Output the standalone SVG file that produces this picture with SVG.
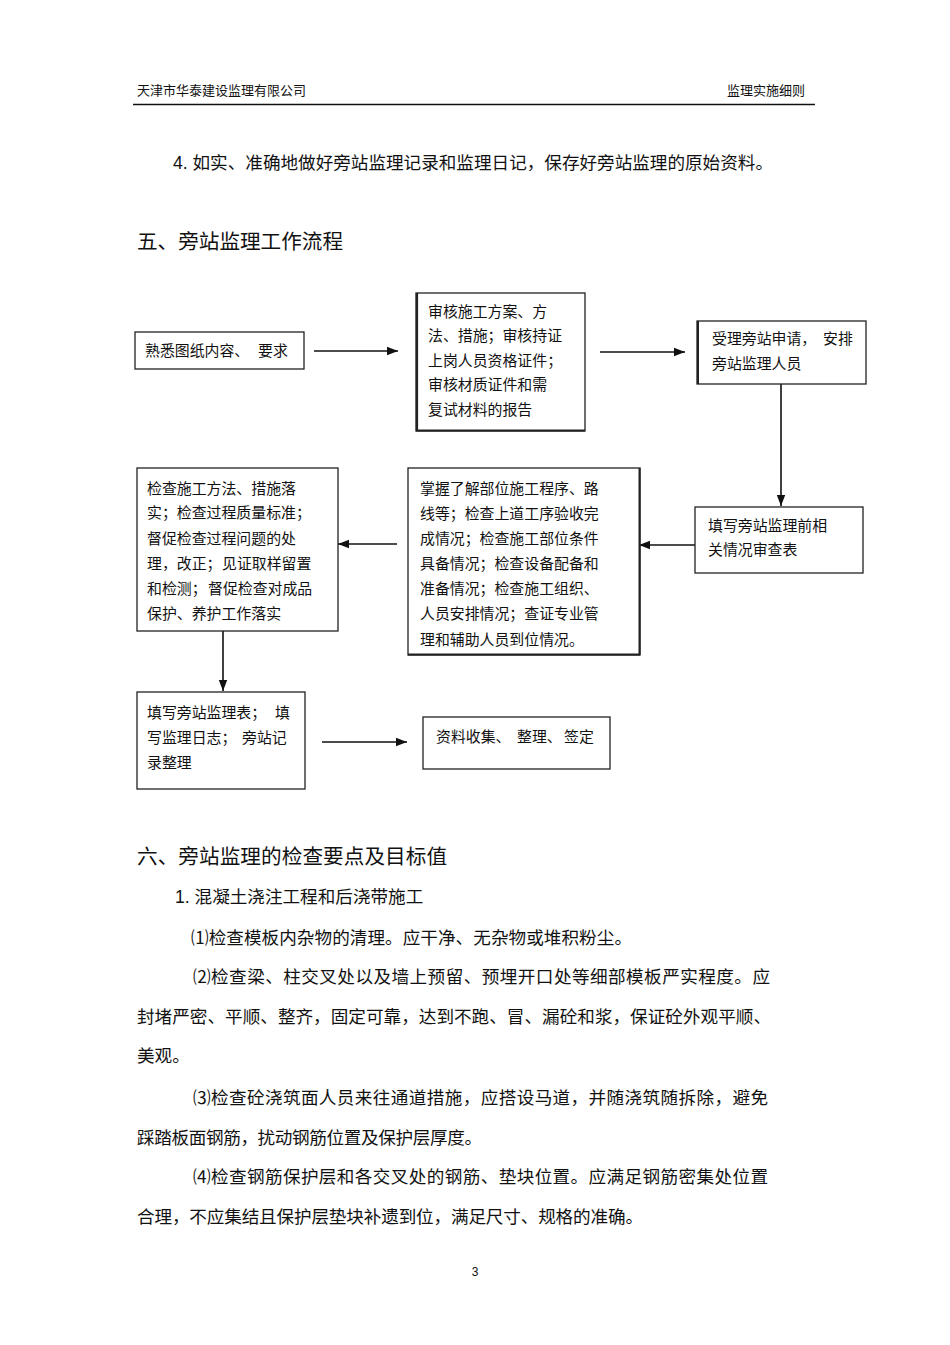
<svg xmlns="http://www.w3.org/2000/svg" width="950" height="1345" viewBox="0 0 950 1345">
<defs>
<style>
text{font-family:"Liberation Sans","Noto Sans CJK SC",sans-serif;fill:#111;}
.hd{font-size:13px;}
.body{font-size:17.6px;}
.h2{font-size:20.6px;}
.bx{font-size:14.9px;}
.box{fill:#fff;stroke:#222;stroke-width:1.3;}
.conn{stroke:#111;stroke-width:1.6;fill:none;marker-end:url(#arr);}
</style>
<marker id="arr" markerUnits="userSpaceOnUse" markerWidth="12" markerHeight="10" refX="11" refY="5" orient="auto">
<path d="M0,0.8 L11,5 L0,9.2 Z" fill="#111"/>
</marker>
</defs>
<rect width="950" height="1345" fill="#fff"/>

<g id="header">
<text class="hd" x="137" y="95">天津市华泰建设监理有限公司</text>
<text class="hd" x="805" y="95" text-anchor="end">监理实施细则</text>
<line x1="133" y1="104.5" x2="815" y2="104.5" stroke="#111" stroke-width="1.5"/>
</g>

<g id="intro">
<text class="body" x="173" y="169" textLength="600" lengthAdjust="spacing">4. 如实、准确地做好旁站监理记录和监理日记，保存好旁站监理的原始资料。</text>
<text class="h2" x="137" y="249" textLength="206" lengthAdjust="spacing">五、旁站监理工作流程</text>
</g>

<g id="connectors">
<line class="conn" x1="314" y1="351" x2="398" y2="351"/>
<line class="conn" x1="600" y1="352" x2="685" y2="352"/>
<line class="conn" x1="781" y1="384" x2="781" y2="506"/>
<line class="conn" x1="695" y1="545" x2="639" y2="545"/>
<line class="conn" x1="397" y1="544" x2="338" y2="544"/>
<line class="conn" x1="223" y1="631" x2="223" y2="691"/>
<line class="conn" x1="322" y1="742" x2="407" y2="742"/>
</g>

<g id="n1">
<rect class="box" x="135" y="332" width="169" height="37"/>
<text class="bx" x="145" y="356">熟悉图纸内容、<tspan x="258">要求</tspan></text>
</g>

<g id="n2">
<rect class="box" x="416" y="293" width="169" height="138"/>
<line x1="417" y1="293" x2="417" y2="431" stroke="#222" stroke-width="2.2"/>
<line x1="416" y1="430.5" x2="585" y2="430.5" stroke="#222" stroke-width="2"/>
<text class="bx" x="428" y="317">审核施工方案、方</text>
<text class="bx" x="428" y="341">法、措施；审核持证</text>
<text class="bx" x="428" y="366">上岗人员资格证件；</text>
<text class="bx" x="428" y="390">审核材质证件和需</text>
<text class="bx" x="428" y="415">复试材料的报告</text>
</g>

<g id="n3">
<rect class="box" x="697" y="321" width="169" height="63"/>
<line x1="698" y1="321" x2="698" y2="384" stroke="#222" stroke-width="2"/>
<text class="bx" x="712" y="344">受理旁站申请，<tspan x="823">安排</tspan></text>
<text class="bx" x="712" y="369">旁站监理人员</text>
</g>

<g id="n4">
<rect class="box" x="695" y="507" width="168" height="66"/>
<text class="bx" x="708" y="531">填写旁站监理前相</text>
<text class="bx" x="708" y="555">关情况审查表</text>
</g>

<g id="n5">
<rect class="box" x="408" y="468" width="232" height="187"/>
<line x1="639.5" y1="468" x2="639.5" y2="655" stroke="#222" stroke-width="2"/>
<line x1="408" y1="654.5" x2="640" y2="654.5" stroke="#222" stroke-width="2"/>
<text class="bx" x="420" y="494">掌握了解部位施工程序、路</text>
<text class="bx" x="420" y="519">线等；检查上道工序验收完</text>
<text class="bx" x="420" y="544">成情况；检查施工部位条件</text>
<text class="bx" x="420" y="569">具备情况；检查设备配备和</text>
<text class="bx" x="420" y="594">准备情况；检查施工组织、</text>
<text class="bx" x="420" y="619">人员安排情况；查证专业管</text>
<text class="bx" x="420" y="645">理和辅助人员到位情况。</text>
</g>

<g id="n6">
<rect class="box" x="137" y="468" width="201" height="163"/>
<text class="bx" x="147" y="494">检查施工方法、措施落</text>
<text class="bx" x="147" y="518">实；检查过程质量标准；</text>
<text class="bx" x="147" y="544">督促检查过程问题的处</text>
<text class="bx" x="147" y="569">理，改正；<tspan x="222">见证取样留置</tspan></text>
<text class="bx" x="147" y="594">和检测；<tspan x="208">督促检查对成品</tspan></text>
<text class="bx" x="147" y="619">保护、养护工作落实</text>
</g>

<g id="n7">
<rect class="box" x="137" y="692" width="168" height="97"/>
<text class="bx" x="147" y="718">填写旁站监理表；<tspan x="275">填</tspan></text>
<text class="bx" x="147" y="743">写监理日志；<tspan x="242">旁站记</tspan></text>
<text class="bx" x="147" y="768">录整理</text>
</g>

<g id="n8">
<rect class="box" x="423" y="717" width="187" height="52"/>
<text class="bx" x="436" y="742">资料收集、<tspan x="517">整理、</tspan><tspan x="564">签定</tspan></text>
</g>

<g id="section6">
<text class="h2" x="137" y="864" textLength="310" lengthAdjust="spacing">六、旁站监理的检查要点及目标值</text>
<text class="body" x="175" y="903">1. 混凝土浇注工程和后浇带施工</text>
<text class="body" x="191" y="944" textLength="441" lengthAdjust="spacing">⑴检查模板内杂物的清理。应干净、无杂物或堆积粉尘。</text>
<text class="body" x="193" y="983" textLength="577" lengthAdjust="spacing">⑵检查梁、柱交叉处以及墙上预留、预埋开口处等细部模板严实程度。应</text>
<text class="body" x="137" y="1023" textLength="634" lengthAdjust="spacing">封堵严密、平顺、整齐，固定可靠，达到不跑、冒、漏砼和浆，保证砼外观平顺、</text>
<text class="body" x="137" y="1062">美观。</text>
<text class="body" x="193" y="1104" textLength="575" lengthAdjust="spacing">⑶检查砼浇筑面人员来往通道措施，应搭设马道，并随浇筑随拆除，避免</text>
<text class="body" x="137" y="1144" textLength="345" lengthAdjust="spacing">踩踏板面钢筋，扰动钢筋位置及保护层厚度。</text>
<text class="body" x="193" y="1183" textLength="575" lengthAdjust="spacing">⑷检查钢筋保护层和各交叉处的钢筋、垫块位置。应满足钢筋密集处位置</text>
<text class="body" x="137" y="1223" textLength="506" lengthAdjust="spacing">合理，不应集结且保护层垫块补遗到位，满足尺寸、规格的准确。</text>
</g>

<g id="footer">
<text x="475" y="1276" text-anchor="middle" style="font-size:12px">3</text>
</g>
</svg>
